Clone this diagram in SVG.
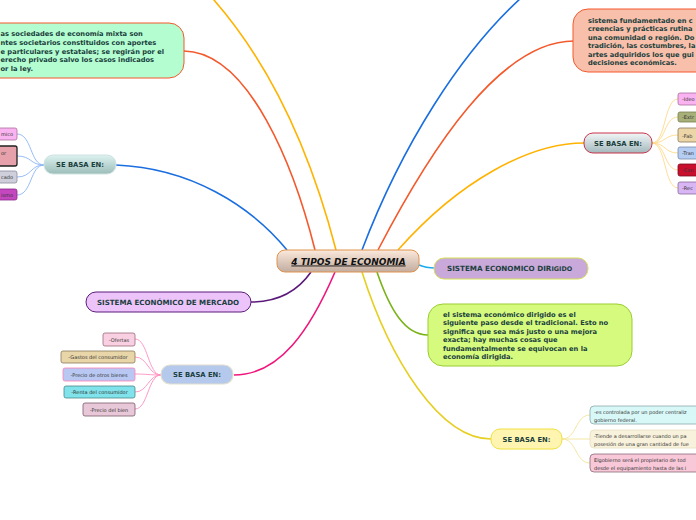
<svg xmlns="http://www.w3.org/2000/svg" width="696" height="520" viewBox="0 0 696 520">
<defs>
<linearGradient id="gCenter" x1="0" y1="0" x2="0" y2="1"><stop offset="0" stop-color="#fbe9db"/><stop offset="1" stop-color="#c2ada0"/></linearGradient>
<linearGradient id="gTeal" x1="0" y1="0" x2="0" y2="1"><stop offset="0" stop-color="#ddf2f0"/><stop offset="1" stop-color="#9cbdb9"/></linearGradient>
<linearGradient id="gGray" x1="0" y1="0" x2="0" y2="1"><stop offset="0" stop-color="#f2f6f7"/><stop offset="1" stop-color="#a3b9bd"/></linearGradient>
<style>
.t{font-family:"DejaVu Sans",Verdana,sans-serif;font-weight:bold;fill:#1b3f3d}
.p{font-size:6.7px}
.h{font-size:6.8px}
.s{font-family:"DejaVu Sans",Verdana,sans-serif;font-size:5px;fill:#333}
.c{fill:none;stroke-width:1.6}
.sub{fill:none;stroke-width:0.9}
</style>
</defs>

<g id="connectors">
<path class="c" stroke="#1b6ee0" d="M116,165 C190,168 250,205 287,250"/>
<path class="c" stroke="#f4592c" d="M184,51 C250,52 295,170 315,250"/>
<path class="c" stroke="#ffb300" d="M336,250 C310,150 270,60 205,-10"/>
<path class="c" stroke="#1b6ee0" d="M362,250 C400,150 460,50 530,-10"/>
<path class="c" stroke="#f4592c" d="M378,250 C430,150 500,41 574,41"/>
<path class="c" stroke="#ffb300" d="M398,250 C460,180 530,143 584,143"/>
<path class="c" stroke="#1aaaf0" d="M419,265 C426,268 430,268 435,268"/>
<path class="c" stroke="#5b1a7a" d="M311,272 C295,295 272,302 251,302"/>
<path class="c" stroke="#f0157c" d="M335,272 C310,330 280,375 234,375"/>
<path class="c" stroke="#e6cf1f" d="M362,272 C390,360 440,439 491,439"/>
<path class="c" stroke="#7ab317" d="M377,272 C390,310 405,335 428,335"/>
<g stroke="#8ab4f8">
<path class="sub" d="M44,165 C30,165 32,134 17,134"/>
<path class="sub" d="M44,165 C30,165 32,156 17,156"/>
<path class="sub" d="M44,165 C30,165 32,177 17,177"/>
<path class="sub" d="M44,165 C30,165 32,195 17,195"/>
</g>
<g stroke="#ffd98a">
<path class="sub" d="M652,143 C666,143 664,99 678,99"/>
<path class="sub" d="M652,143 C666,143 664,117 678,117"/>
<path class="sub" d="M652,143 C666,143 664,135 678,135"/>
<path class="sub" d="M652,143 C666,143 664,153 678,153"/>
<path class="sub" d="M652,143 C666,143 664,170 678,170"/>
<path class="sub" d="M652,143 C666,143 664,188 678,188"/>
</g>
<g stroke="#ff8ec0">
<path class="sub" d="M161,375 C148,375 148,339 135,339"/>
<path class="sub" d="M161,375 C148,375 148,357 135,357"/>
<path class="sub" d="M161,375 C148,375 148,374 135,374"/>
<path class="sub" d="M161,375 C148,375 148,392 135,392"/>
<path class="sub" d="M161,375 C148,375 148,409 135,409"/>
</g>
<g stroke="#f3e39a">
<path class="sub" d="M562,439 C577,439 575,415 590,415"/>
<path class="sub" d="M562,439 C577,439 575,439 590,439"/>
<path class="sub" d="M562,439 C577,439 575,463 590,463"/>
</g>
</g>

<g id="center">
<rect x="277" y="250" width="142" height="22" rx="8" fill="url(#gCenter)" stroke="#e0924e" stroke-width="1"/>
<text x="348.5" y="264.5" text-anchor="middle" font-family="DejaVu Sans,Verdana,sans-serif" font-size="9" font-weight="bold" font-style="italic" text-decoration="underline" fill="#111">4 TIPOS DE ECONOMIA</text>
</g>

<g id="mixta">
<rect x="-30" y="23" width="214" height="55" rx="15" fill="#b3fdd0" stroke="#f4592c" stroke-width="1"/>
<text class="t p" x="0.5"><tspan x="0.5" y="36.3">as sociedades de economía mixta son</tspan><tspan x="0.5" y="45">ntes societarios constituidos con aportes</tspan><tspan x="0.5" y="53.7">e particulares y estatales; se regirán por el</tspan><tspan x="0.5" y="62.4">erecho privado salvo los casos indicados</tspan><tspan x="0.5" y="71">or la ley.</tspan></text>
</g>

<g id="tradicional">
<rect x="573" y="9" width="160" height="63" rx="15" fill="#f8bfaa" stroke="#f4592c" stroke-width="1"/>
<text class="t p"><tspan x="588" y="23">sistema fundamentado en c</tspan><tspan x="588" y="31.4">creencias y prácticas rutina</tspan><tspan x="588" y="39.8">una comunidad o región. Do</tspan><tspan x="588" y="48.2">tradición, las costumbres, la</tspan><tspan x="588" y="56.6">artes adquiridos los que gui</tspan><tspan x="588" y="65">decisiones económicas.</tspan></text>
</g>

<g id="base-left">
<rect x="44" y="155" width="72" height="19" rx="9" fill="url(#gTeal)" stroke="#cfe3e1" stroke-width="1"/>
<text class="t h" x="80" y="167" text-anchor="middle">SE BASA EN:</text>
</g>
<g id="left-c1"><rect x="-40" y="128" width="57" height="12" rx="2" fill="#f9b3f0" stroke="#a9709f" stroke-width="0.8"/><text class="s" x="13" y="136" text-anchor="end">mico</text></g>
<g id="left-c2"><rect x="-40" y="146" width="57" height="20" rx="2" fill="#e6a1aa" stroke="#222" stroke-width="1.3"/><text class="s" x="6" y="154.5" text-anchor="end">or</text></g>
<g id="left-c3"><rect x="-40" y="171" width="57" height="12" rx="2" fill="#cfcfdc" stroke="#8a8aa0" stroke-width="0.8"/><text class="s" x="13" y="179" text-anchor="end">cado</text></g>
<g id="left-c4"><rect x="-40" y="189" width="57" height="11" rx="2" fill="#c447c0" stroke="#8a2a8a" stroke-width="0.8"/><text class="s" x="13" y="196.5" text-anchor="end">ismo</text></g>

<g id="base-right">
<rect x="584" y="133" width="68" height="20" rx="9" fill="url(#gGray)" stroke="#c8324b" stroke-width="1"/>
<text class="t h" x="618" y="145.5" text-anchor="middle">SE BASA EN:</text>
</g>
<g id="right-c1"><rect x="678" y="93" width="40" height="12" rx="2" fill="#f9b3f0" stroke="#a9709f" stroke-width="0.8"/><text class="s" x="682" y="101">-Ideo</text></g>
<g id="right-c2"><rect x="678" y="112" width="40" height="10" rx="2" fill="#a8b07a" stroke="#7a8050" stroke-width="0.8"/><text class="s" x="682" y="119">-Extr</text></g>
<g id="right-c3"><rect x="678" y="128" width="40" height="14" rx="2" fill="#ecd6a8" stroke="#8a7a5a" stroke-width="0.8"/><text class="s" x="682" y="138" font-size="7">-Fab</text></g>
<g id="right-c4"><rect x="678" y="147" width="40" height="12" rx="2" fill="#b5cdf2" stroke="#7a8aa8" stroke-width="0.8"/><text class="s" x="682" y="155">-Tran</text></g>
<g id="right-c5"><rect x="678" y="164" width="40" height="12" rx="2" fill="#c8102e" stroke="#7a1020" stroke-width="0.8"/><text class="s" x="682" y="172" fill="#3a0a10">-Con</text></g>
<g id="right-c6"><rect x="678" y="182" width="40" height="12" rx="2" fill="#d8b6f4" stroke="#8a6aa0" stroke-width="0.8"/><text class="s" x="682" y="190">-Rec</text></g>

<g id="dirigido">
<rect x="434" y="258" width="154" height="21" rx="10" fill="#c9a9d9" stroke="#d4e157" stroke-width="1"/>
<text class="t" x="447" y="271" font-size="7.2">SISTEMA ECONOMICO DIR<tspan font-size="6.4">IGIDO</tspan></text>
</g>

<g id="mercado">
<rect x="86" y="292" width="165" height="20" rx="10" fill="#ecc4fa" stroke="#5b1a7a" stroke-width="1"/>
<text class="t" x="168" y="304.8" font-size="7.1" text-anchor="middle">SISTEMA ECONÓMICO DE MERCADO</text>
</g>

<g id="dirigido-desc">
<rect x="428" y="304" width="204" height="62" rx="15" fill="#d6fa7e" stroke="#9acd32" stroke-width="1"/>
<text class="t p"><tspan x="443" y="316.5">el sistema económico dirigido es el</tspan><tspan x="443" y="325">siguiente paso desde el tradicional. Esto no</tspan><tspan x="443" y="333.5">significa que sea más justo o una mejora</tspan><tspan x="443" y="342">exacta; hay muchas cosas que</tspan><tspan x="443" y="350.5">fundamentalmente se equivocan en la</tspan><tspan x="443" y="359">economía dirigida.</tspan></text>
</g>

<g id="base-bottom-left">
<rect x="161" y="365" width="72" height="19" rx="9" fill="#b5c9ec" stroke="#e2e0cf" stroke-width="1.2"/>
<text class="t h" x="197" y="377" text-anchor="middle">SE BASA EN:</text>
</g>
<g id="bl-c1"><rect x="103" y="333" width="32" height="13" rx="2" fill="#f9d0e1" stroke="#9a6a7a" stroke-width="0.8"/><text class="s" x="119" y="341.5" text-anchor="middle">-Ofertas</text></g>
<g id="bl-c2"><rect x="61" y="351" width="74" height="12" rx="2" fill="#e8d5a8" stroke="#8a7a5a" stroke-width="0.8"/><text class="s" x="98" y="359" text-anchor="middle">-Gastos del consumidor</text></g>
<g id="bl-c3"><rect x="63" y="368" width="72" height="13" rx="2" fill="#b8c8f2" stroke="#ff7eb6" stroke-width="0.8"/><text class="s" x="99" y="376.5" text-anchor="middle">-Precio de otros bienes</text></g>
<g id="bl-c4"><rect x="64" y="386" width="71" height="12" rx="2" fill="#80e2ea" stroke="#4a8a8a" stroke-width="0.8"/><text class="s" x="99.5" y="394" text-anchor="middle">-Renta del consumidor</text></g>
<g id="bl-c5"><rect x="83" y="403" width="52" height="13" rx="2" fill="#e8c8d8" stroke="#7a5a6a" stroke-width="0.8"/><text class="s" x="109" y="411.5" text-anchor="middle">-Precio del bien</text></g>

<g id="base-bottom-right">
<rect x="491" y="429" width="71" height="20" rx="9" fill="#fff5b0" stroke="#efe040" stroke-width="1"/>
<text class="t h" x="526.5" y="441.5" text-anchor="middle">SE BASA EN:</text>
</g>
<g id="br-c1"><rect x="590" y="406" width="130" height="18" rx="4" fill="#d8f8f8" stroke="#8aa8aa" stroke-width="0.8"/><text class="s" font-size="5.5"><tspan x="594" y="414">-es controlada por un poder centraliz</tspan><tspan x="594" y="421.5">gobierno federal.</tspan></text></g>
<g id="br-c2"><rect x="590" y="430" width="130" height="18" rx="4" fill="#f8f2dc" stroke="#e6dfc2" stroke-width="0.8"/><text class="s" font-size="5.5"><tspan x="594" y="438">-Tiende a desarrollarse cuando un pa</tspan><tspan x="594" y="445.5">posesión de una gran cantidad de fue</tspan></text></g>
<g id="br-c3"><rect x="590" y="454" width="130" height="18" rx="4" fill="#f8c8d8" stroke="#8a6a7a" stroke-width="0.8"/><text class="s" font-size="5.5"><tspan x="594" y="462">Elgobierno será el propietario de tod</tspan><tspan x="594" y="469.5">desde el equipamiento hasta de las i</tspan></text></g>
</svg>
